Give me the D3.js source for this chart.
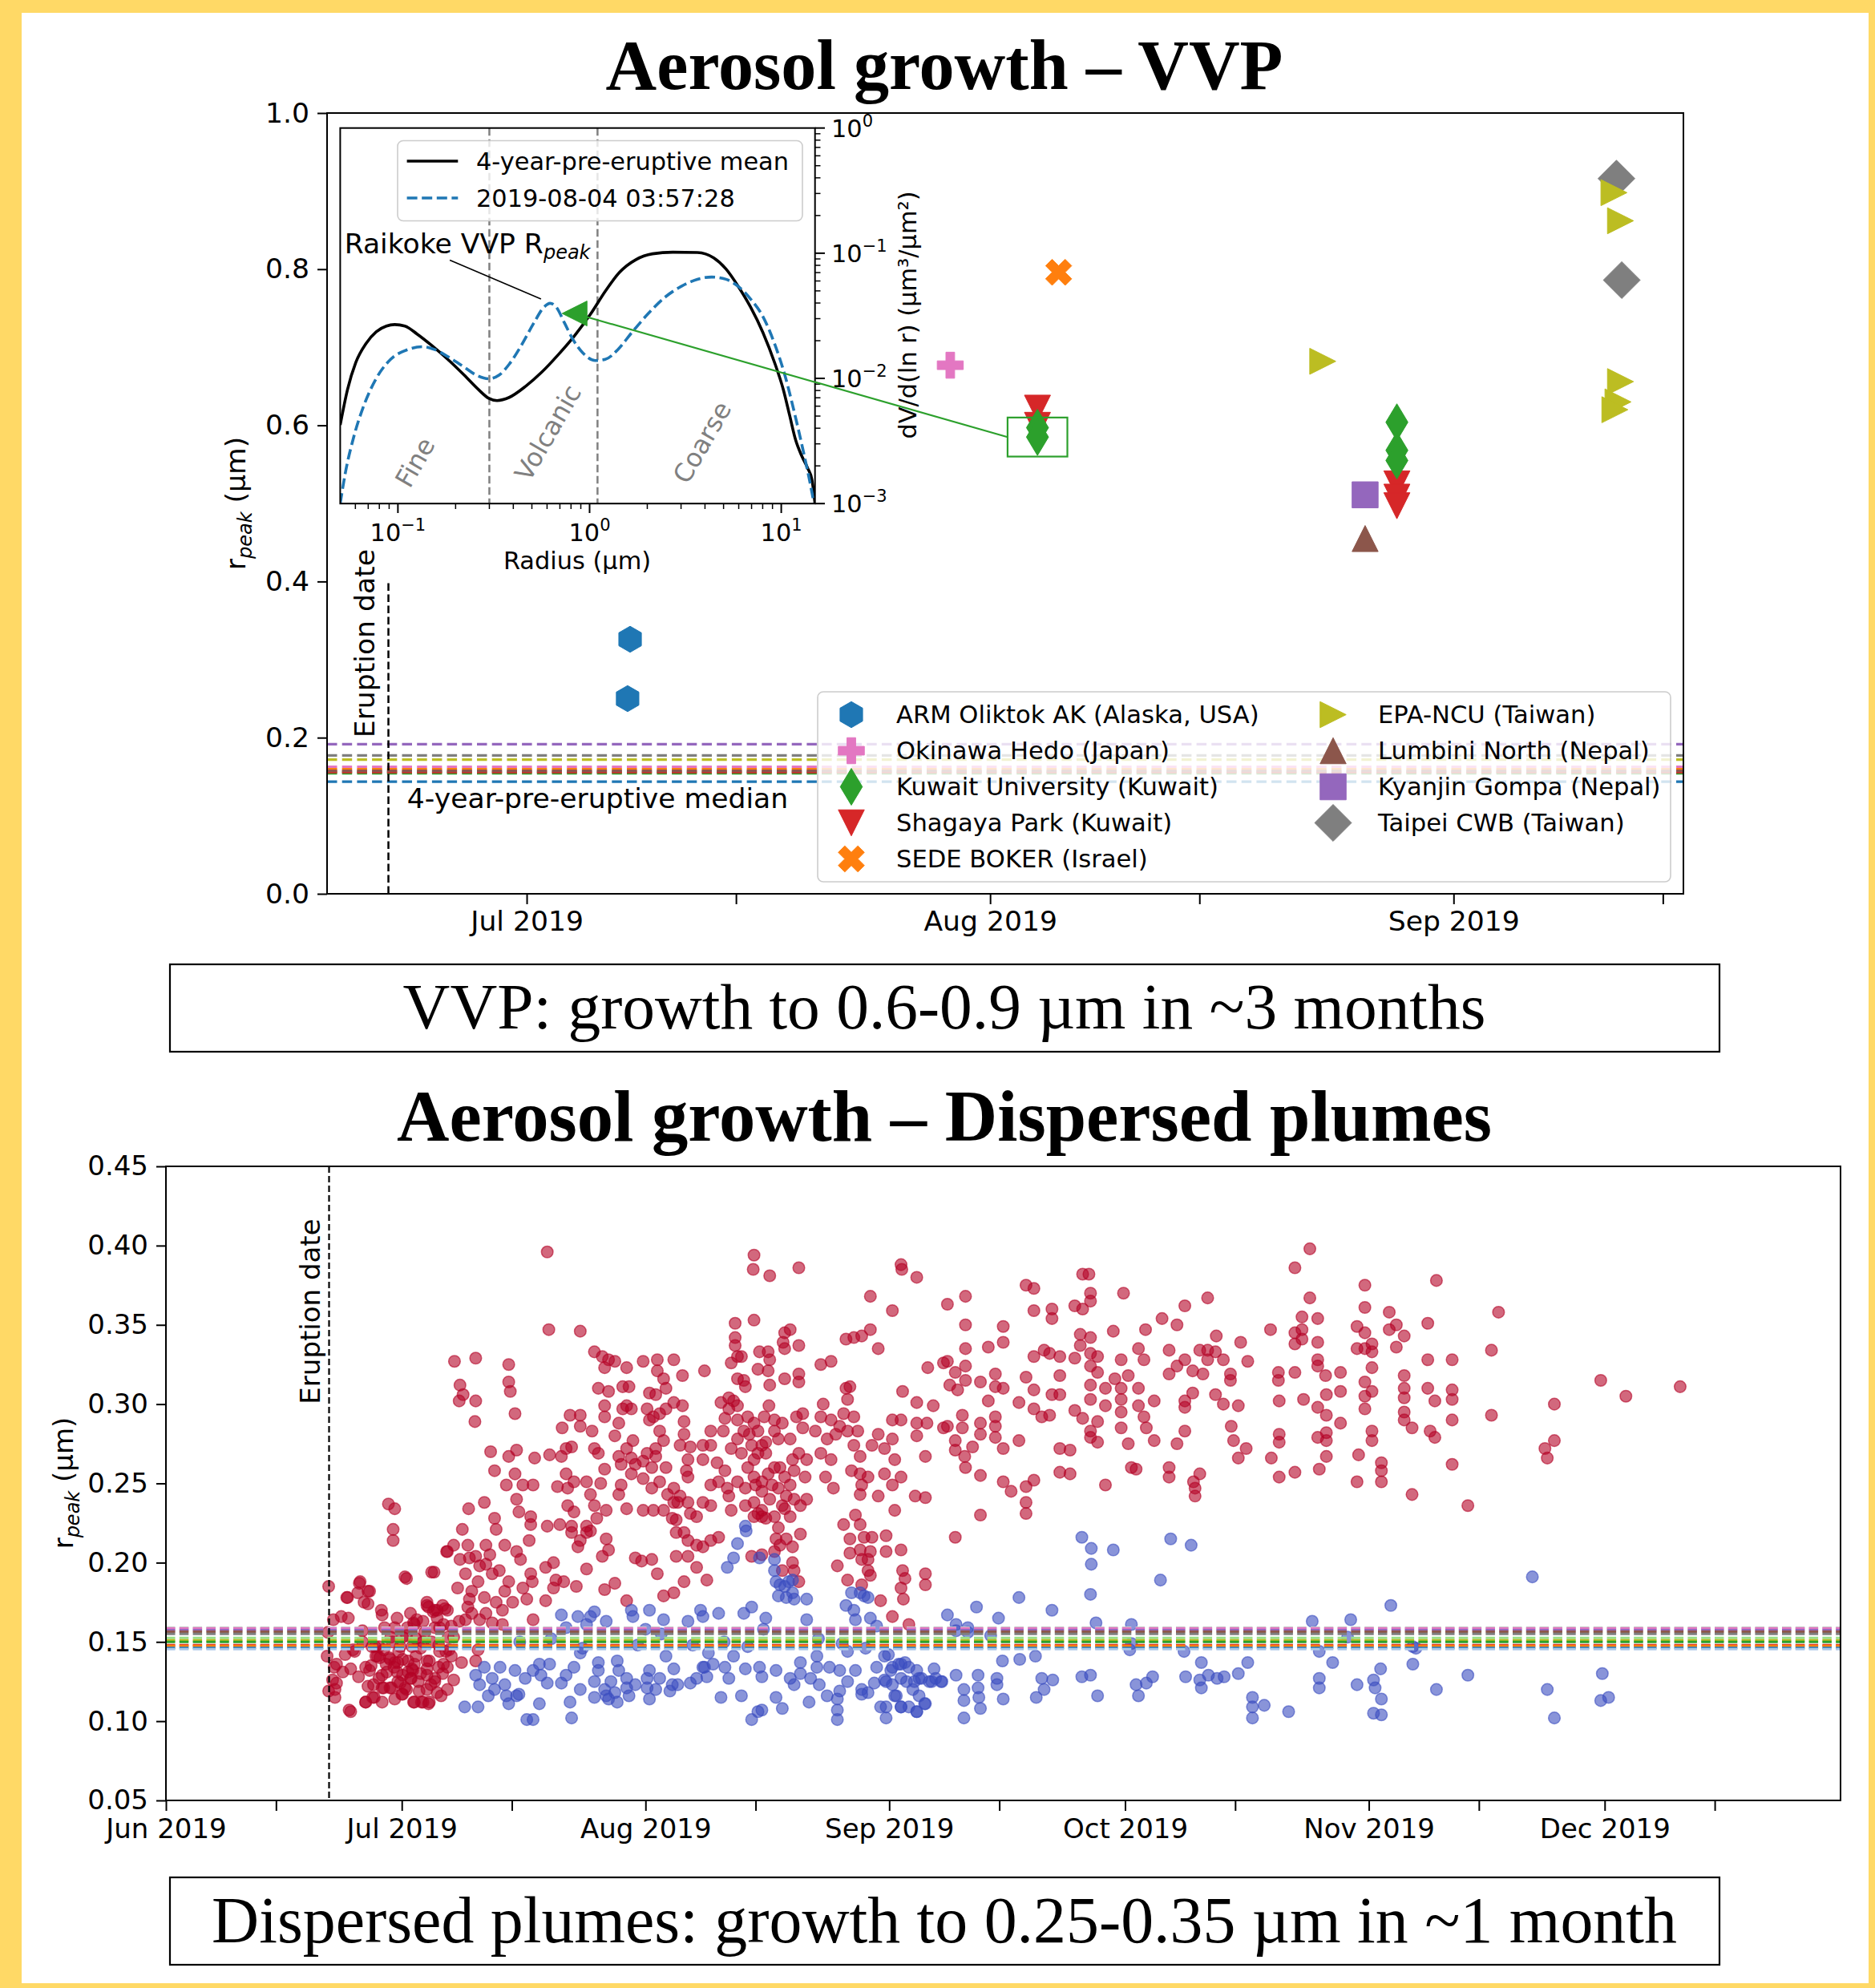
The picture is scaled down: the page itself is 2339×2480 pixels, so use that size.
<!DOCTYPE html>
<html><head><meta charset="utf-8">
<script src="https://cdn.jsdelivr.net/npm/d3@7"></script>
<style>html,body{margin:0;padding:0;background:#FFD966}svg{display:block}</style>
</head><body>
<svg id="chart" width="2339" height="2480" xmlns="http://www.w3.org/2000/svg"></svg>
<script>
// ================= DATA =================
// --- VVP panel: stations ---
const stationNames = ["ARM Oliktok AK (Alaska, USA)","Okinawa Hedo (Japan)","Kuwait University (Kuwait)","Shagaya Park (Kuwait)","SEDE BOKER (Israel)","EPA-NCU (Taiwan)","Lumbini North (Nepal)","Kyanjin Gompa (Nepal)","Taipei CWB (Taiwan)"];
const stationColors = ["#1f77b4","#e377c2","#2ca02c","#d62728","#ff7f0e","#bcbd22","#8c564b","#9467bd","#7f7f7f"];
const stationSymbols = ["hexagon","plus","thin_diamond","tri_down","x","tri_right","tri_up","square","diamond"];
const stationMedians = [0.1437,0.1625,0.1545,0.1560,0.1595,0.1718,0.1575,0.1917,0.1773];
const armPts = [["2019-07-07T22:00Z",0.326],["2019-07-07T18:00Z",0.250]];
const okinawaPts = [["2019-07-29T08:00Z",0.677]];
const kuwaitUPts = [["2019-08-04T04:00Z",0.597],["2019-08-04T04:00Z",0.585],["2019-08-28T05:00Z",0.604],["2019-08-28T05:00Z",0.568],["2019-08-28T05:00Z",0.555]];
const shagayaPts = [["2019-08-04T04:00Z",0.622],["2019-08-04T04:00Z",0.600],["2019-08-28T05:00Z",0.525],["2019-08-28T05:00Z",0.508],["2019-08-28T05:00Z",0.497]];
const sedePts = [["2019-08-05T14:00Z",0.796]];
const epaPts = [["2019-08-23T06:00Z",0.682],["2019-09-11T17:30Z",0.898],["2019-09-12T04:00Z",0.862],["2019-09-12T04:00Z",0.656],["2019-09-12T00:00Z",0.630],["2019-09-11T19:00Z",0.620]];
const lumbiniPts = [["2019-08-26T02:00Z",0.455]];
const kyanjinPts = [["2019-08-26T02:00Z",0.511]];
const taipeiPts = [["2019-09-11T21:30Z",0.916],["2019-09-12T06:00Z",0.786]];
const eruptionDate = "2019-06-21T18:00Z";
const topYTicks = [0,0.2,0.4,0.6,0.8,1.0];
const topXTicks = ["2019-07-01","2019-07-15","2019-08-01","2019-08-15","2019-09-01","2019-09-15"];
const highlightBox = {d0:"2019-08-02T04:00Z", d1:"2019-08-06T04:00Z", v0:0.560, v1:0.610};

// --- inset: size distributions ---
const meanR  = [0.0500,0.0546,0.0603,0.0682,0.0771,0.0871,0.0962,0.1087,0.1259,0.1496,0.182,0.222,0.263,0.298,0.329,0.381,0.464,0.564,0.687,0.836,1.017,1.208,1.435,1.746,2.128,2.718,3.65,4.446,5.152,5.97,6.92,8.02,9.29,10.25,11.04,11.89,12.79,13.77,14.46,15.0];
const meanDV = [0.00425,0.00815,0.0134,0.0190,0.0236,0.0262,0.0269,0.0262,0.0226,0.0184,0.0142,0.0106,0.00815,0.00693,0.00665,0.00705,0.00865,0.01125,0.01549,0.0220,0.0330,0.0497,0.0705,0.0889,0.0989,0.1019,0.1012,0.0916,0.0747,0.0542,0.0371,0.0233,0.0130,0.00815,0.00512,0.00321,0.00240,0.00190,0.00155,0.00100];
const obsR  = [0.0500,0.0533,0.0588,0.0665,0.0771,0.0916,0.1114,0.1356,0.157,0.1866,0.222,0.257,0.298,0.3367,0.381,0.441,0.512,0.578,0.622,0.670,0.740,0.815,0.922,1.069,1.208,1.400,1.663,2.025,2.464,3.00,3.65,4.335,5.15,5.97,6.92,8.02,9.29,10.5,11.89,13.09,14.09,14.83];
const obsDV = [0.00100,0.00179,0.00340,0.00610,0.0100,0.0142,0.0169,0.0179,0.0169,0.0146,0.0123,0.0106,0.00993,0.0106,0.0130,0.0184,0.0277,0.0371,0.0398,0.0371,0.0277,0.0207,0.0160,0.0139,0.0142,0.0169,0.0233,0.0330,0.0443,0.0542,0.0619,0.0645,0.0619,0.0542,0.0430,0.0312,0.0184,0.0103,0.00483,0.00254,0.00150,0.00100];
const regionBounds = [0.3, 1.1];
const regionLabels = [["Fine",0.123,0.00213],["Volcanic",0.607,0.00367],["Coarse",3.87,0.00308]];
const vvpPeak = [0.835, 0.033];
const annotText = [0.0526, 0.1];
const annotFrom = [0.1865, 0.088];
const annotTo = [0.558, 0.043];

// --- Dispersed plumes panel ---
const dispMedians = [0.1590,0.1585,0.1575,0.1565,0.1550,0.1525,0.1510,0.1500,0.1480,0.1475,0.1462,0.1455];
const dispMedianColors = ["#c7c7c7","#e377c2","#9467bd","#8c564b","#7f7f7f","#98df8a","#bcbd22","#2ca02c","#d62728","#ff7f0e","#1f77b4","#aec7e8"];
const bottomYTicks = [0.05,0.10,0.15,0.20,0.25,0.30,0.35,0.40,0.45];
const bottomXTicks = ["2019-06-01","2019-06-15","2019-07-01","2019-07-15","2019-08-01","2019-08-15","2019-09-01","2019-09-15","2019-10-01","2019-10-15","2019-11-01","2019-11-15","2019-12-01","2019-12-15"];
// [days since 2019-06-01, r_peak]
const dispRed = [
[20.7,0.185],[21.3,0.164],[20.6,0.156],[20.5,0.141],[20.7,0.119],[21.5,0.115],[21.7,0.124],[21.4,0.134],[22.3,0.166],[23.2,0.165],[23.1,0.178],[24.4,0.181],[24.7,0.188],[25.7,0.182],[25.2,0.175],[25.7,0.174],[23.5,0.106],[22.5,0.131],[23.5,0.133],[24.5,0.128],[25.4,0.112],[25.4,0.134],[25.7,0.122],[25.0,0.157],[26.2,0.147],[26.7,0.141],[27.4,0.170],[27.5,0.167],[27.7,0.121],[27.5,0.112],[27.2,0.140],[28.4,0.140],[28.7,0.121],[28.3,0.237],[29.1,0.234],[28.9,0.221],[28.9,0.214],[29.4,0.165],[29.1,0.159],[29.6,0.144],[29.1,0.137],[29.4,0.131],[29.8,0.124],[30.4,0.191],[30.4,0.121],[31.3,0.133],[31.5,0.112],[32.5,0.112],[33.5,0.112],[33.8,0.194],[33.2,0.173],[34.0,0.169],[34.5,0.170],[35.2,0.173],[34.8,0.159],[33.8,0.150],[34.8,0.144],[35.2,0.130],[34.2,0.125],[33.2,0.120],[33.2,0.133],[32.4,0.130],[32.4,0.146],[31.3,0.147],[30.8,0.138],[31.5,0.162],[31.8,0.152],[30.1,0.153],[30.8,0.131],[30.0,0.117],[26.6,0.147],[28.1,0.131],[27.1,0.127],[26.5,0.115],
[23.0,0.178],[24.6,0.187],[25.9,0.182],[30.6,0.190],[34.1,0.194],[35.7,0.207],[33.2,0.175],[34.2,0.170],[31.9,0.164],[34.5,0.165],[35.8,0.170],[35.3,0.161],[23.3,0.107],[25.4,0.112],[27.5,0.121],[28.5,0.121],[30.6,0.120],[31.6,0.112],[32.7,0.112],[33.4,0.111],[35.0,0.116],[35.8,0.120],[36.6,0.126],[25.9,0.132],[29.5,0.137],[31.4,0.132],[33.2,0.138],[34.7,0.134],[27.7,0.145],[28.5,0.139],[30.1,0.139],[23.8,0.145],[22.8,0.142],[21.7,0.136],[21.2,0.126],[21.5,0.120],
[26.9,0.141],[28.0,0.136],[29.0,0.134],[30.1,0.129],[31.1,0.127],[32.1,0.125],[33.2,0.129],[34.2,0.127],[35.3,0.136],[27.5,0.129],[29.5,0.125],[31.6,0.136],[33.7,0.123],[35.8,0.134],[26.4,0.123],[28.8,0.150],[30.6,0.154],[32.7,0.150],[34.7,0.148],[36.0,0.145],[31.1,0.168],[32.7,0.163],[31.6,0.161],[33.4,0.172],
[24.0,0.144],[25.0,0.150],[26.1,0.135],[27.1,0.147],[27.8,0.159],[28.6,0.153],[29.8,0.147],[30.7,0.159],[31.2,0.127],[31.8,0.141],[32.9,0.156],[33.5,0.138],[34.2,0.159],[35.6,0.144],[35.9,0.153],[26.3,0.115],[29.1,0.114],[30.1,0.117],[32.2,0.119],[34.5,0.118],
[35.5,0.171],[36.6,0.153],[36.3,0.141],[37.6,0.137],[36.7,0.327],[37.4,0.312],[37.8,0.306],[37.3,0.302],[39.4,0.329],[39.4,0.302],[39.3,0.289],[38.5,0.234],[37.7,0.221],[35.8,0.207],[36.6,0.211],[37.4,0.202],[38.6,0.203],[39.9,0.198],[39.7,0.188],[38.9,0.182],[38.6,0.177],[38.4,0.172],[38.1,0.164],[37.3,0.163],[39.9,0.164],[39.7,0.145],[39.4,0.138],[40.5,0.238],[41.3,0.270],[41.8,0.258],[41.8,0.228],[42.0,0.221],[40.7,0.211],[41.2,0.205],[40.5,0.178],[41.5,0.162],[42.8,0.170],[43.1,0.182],[42.4,0.195],[43.6,0.325],[43.6,0.314],[43.8,0.308],[44.4,0.294],[44.6,0.271],[43.6,0.267],[43.3,0.249],[44.4,0.256],[44.6,0.240],[44.9,0.232],[43.1,0.211],[44.6,0.207],[44.1,0.175],[42.8,0.161],
[38.4,0.211],[39.4,0.204],[40.7,0.199],[41.5,0.193],[38.1,0.193],[37.1,0.184],[38.9,0.168],[40.7,0.168],[42.0,0.175],[43.6,0.188],[45.1,0.202],[46.4,0.193],[45.9,0.177],[48.3,0.197],[49.3,0.184],[36.3,0.160],
[45.4,0.249],[46.4,0.229],[46.4,0.224],[46.7,0.249],[46.9,0.266],[46.2,0.214],[46.6,0.188],[45.4,0.184],[46.7,0.164],[48.3,0.176],[48.5,0.223],[48.8,0.268],[49.3,0.200],[49.6,0.189],[50.6,0.188],[52.2,0.185],[49.8,0.248],[50.3,0.267],[50.9,0.272],[51.6,0.273],[50.4,0.285],[51.4,0.293],[52.7,0.293],[52.7,0.286],[50.9,0.256],[51.1,0.247],[51.9,0.251],[51.1,0.236],[51.9,0.232],[50.1,0.224],[51.6,0.223],[51.6,0.219],[52.7,0.214],[52.4,0.210],[53.5,0.223],[53.5,0.219],[53.5,0.196],[52.7,0.346],[48.7,0.347],[48.5,0.396],[53.5,0.251],[54.0,0.243],[54.5,0.272],[54.2,0.283],[54.5,0.333],[55.5,0.330],[56.3,0.328],[55.8,0.323],[55.0,0.310],[56.3,0.308],[55.8,0.299],[55.8,0.292],[55.0,0.269],[55.8,0.259],[55.3,0.250],[54.5,0.236],[56.0,0.233],[54.8,0.228],[54.0,0.220],[55.5,0.204],[56.0,0.215],[56.3,0.208],[55.8,0.183],[57.1,0.187],[58.6,0.176],
[57.1,0.327],[58.6,0.323],[58.9,0.311],[58.6,0.299],[58.1,0.297],[57.6,0.288],[57.1,0.280],[58.6,0.272],[57.6,0.267],[59.2,0.266],[59.7,0.262],[59.2,0.256],[57.9,0.249],[57.6,0.243],[58.6,0.234],[59.7,0.203],[60.5,0.201],[60.7,0.233],[60.7,0.327],[61.5,0.307],[62.0,0.292],[61.5,0.290],[62.5,0.328],[62.5,0.321],[63.3,0.316],[63.6,0.310],[64.6,0.328],[65.7,0.318],[63.6,0.297],[62.8,0.283],[63.3,0.277],[62.3,0.272],[61.2,0.269],[62.3,0.267],[61.8,0.260],[63.6,0.260],[62.8,0.251],[61.8,0.247],[64.6,0.247],[63.8,0.243],[64.6,0.238],[65.7,0.299],[65.9,0.289],[65.9,0.281],[65.4,0.274],[66.7,0.273],[66.4,0.265],[66.2,0.258],[66.4,0.254],[65.4,0.242],[65.1,0.238],[66.4,0.238],[66.7,0.231],[64.9,0.227],[64.9,0.219],[65.9,0.219],[66.4,0.214],[67.5,0.211],[66.4,0.204],[68.3,0.210],[69.3,0.214],[70.3,0.216],[68.8,0.189],[67.5,0.229],[68.3,0.274],[68.3,0.265],[68.5,0.321],[69.3,0.283],[69.3,0.274],[69.3,0.249],[69.3,0.236],
[58.1,0.311],[59.2,0.297],[61.2,0.297],[62.3,0.306],[62.8,0.294],[64.6,0.301],[57.9,0.262],[68.3,0.238],[59.4,0.277],[60.7,0.264],[60.7,0.253],[62.0,0.233],[63.3,0.233],[64.4,0.228],
[61.8,0.202],[62.5,0.193],[64.9,0.204],[65.9,0.188],[67.5,0.197],[63.3,0.179],[64.6,0.181],
[70.1,0.263],[70.3,0.251],[70.6,0.301],[70.9,0.283],[71.1,0.258],[71.4,0.247],[71.6,0.242],[71.9,0.233],[71.1,0.291],[72.4,0.351],[72.4,0.342],[72.4,0.337],[71.9,0.326],[72.7,0.330],[73.2,0.330],[72.7,0.316],[73.5,0.315],[73.7,0.311],[71.6,0.304],[72.2,0.302],[72.7,0.299],[71.6,0.297],[72.7,0.290],[73.5,0.283],[73.2,0.269],[74.2,0.281],[74.5,0.274],[75.3,0.283],[74.8,0.265],[75.3,0.269],[75.8,0.274],[76.3,0.269],[76.3,0.276],[74.8,0.254],[75.0,0.249],[75.8,0.251],[75.8,0.245],[74.8,0.238],[75.8,0.233],[75.3,0.231],[75.8,0.229],[73.7,0.236],[74.8,0.394],[74.7,0.385],[76.8,0.381],[74.8,0.353],[75.5,0.333],[75.3,0.322],[76.6,0.333],[76.8,0.328],[76.6,0.321],[76.8,0.312],[76.7,0.299],[77.4,0.290],[77.9,0.278],[77.4,0.260],[77.1,0.249],[77.9,0.247],[78.7,0.254],[79.4,0.249],[78.9,0.242],[79.9,0.240],[78.7,0.234],[77.4,0.229],[76.3,0.228],[77.9,0.222],[77.6,0.215],[78.9,0.215],[79.7,0.210],[79.9,0.195],[78.7,0.345],[79.4,0.347],[78.5,0.339],[78.7,0.335],[80.5,0.386],[80.5,0.337],[78.7,0.316],[80.5,0.319],[80.5,0.314],[81.0,0.294],[81.0,0.285],[80.5,0.269],[81.5,0.265],[81.3,0.254],[79.9,0.258],[81.5,0.240],[80.7,0.236],[82.6,0.283],
[71.9,0.272],[72.7,0.278],[74.0,0.292],[74.8,0.288],[76.1,0.292],[77.4,0.283],[78.4,0.288],[79.4,0.278],[80.2,0.292],[74.0,0.260],[76.6,0.256],[78.1,0.260],[79.7,0.265],[72.7,0.251],[73.7,0.247],[76.8,0.240],[74.8,0.229],[79.4,0.229],[78.4,0.236],[80.7,0.218],[78.1,0.211],
[74.5,0.204],[75.8,0.205],[77.4,0.207],[78.4,0.195],[79.7,0.200],[80.5,0.188],
[83.3,0.325],[84.6,0.327],[83.6,0.300],[83.3,0.292],[84.6,0.290],[85.7,0.286],[85.2,0.281],[84.1,0.278],[83.3,0.269],[84.6,0.265],[83.9,0.254],[84.9,0.247],[86.2,0.294],[86.5,0.310],[87.0,0.311],[86.7,0.303],[87.5,0.292],[86.7,0.283],[88.0,0.283],[87.5,0.274],[88.3,0.267],[87.2,0.258],[88.3,0.256],[89.3,0.254],[88.5,0.249],[88.3,0.243],[87.5,0.342],[88.5,0.343],[89.6,0.347],[86.5,0.341],[90.6,0.335],[89.6,0.368],[92.4,0.359],[93.5,0.388],[93.6,0.385],[95.5,0.380],[93.7,0.308],[95.5,0.301],[97.6,0.299],[95.5,0.288],[96.8,0.288],[93.5,0.290],[92.4,0.290],[92.4,0.278],[90.6,0.281],[89.8,0.274],[91.4,0.272],[92.7,0.265],[91.4,0.256],[92.4,0.249],[90.6,0.242],[93.5,0.254],[95.5,0.280],[96.6,0.267],[95.3,0.242],[96.6,0.241],[92.7,0.233],[98.9,0.285],[98.9,0.326],
[86.2,0.224],[87.7,0.230],[88.3,0.224],[87.0,0.215],[88.8,0.216],[89.8,0.216],[88.3,0.208],[89.6,0.207],[87.0,0.206],[88.5,0.202],[89.3,0.202],[89.3,0.195],[89.6,0.192],[85.4,0.198],[86.7,0.189],[88.5,0.186],[90.9,0.176],[92.4,0.166],[93.5,0.184],[93.7,0.195],[94.0,0.190],[93.5,0.208],[96.6,0.193],[96.6,0.186],[91.6,0.217],[91.6,0.207],[93.8,0.177],[100.4,0.216],[94.5,0.161],
[96.9,0.323],[99.4,0.363],[99.4,0.327],[99.7,0.312],[100.4,0.320],[100.7,0.309],[101.7,0.368],[101.7,0.350],[101.7,0.335],[101.7,0.324],[101.7,0.315],[99.4,0.286],[101.3,0.293],[101.3,0.285],[100.4,0.277],[100.4,0.271],[101.6,0.267],[101.7,0.260],[102.6,0.273],[103.6,0.314],[103.6,0.288],[103.6,0.281],[103.6,0.255],[103.6,0.230],[104.6,0.336],[104.6,0.302],[105.5,0.319],[105.5,0.311],[105.5,0.292],[105.5,0.286],[105.5,0.279],[106.5,0.349],[106.5,0.339],[106.5,0.310],[106.5,0.272],[106.5,0.251],[107.5,0.245],[108.5,0.301],[108.5,0.277],[109.4,0.317],[109.4,0.375],[109.4,0.248],[109.4,0.238],[109.4,0.231],[110.4,0.373],[110.4,0.359],[110.4,0.330],[110.4,0.309],[110.4,0.297],[110.4,0.252],[111.4,0.292],[111.7,0.334],[112.4,0.332],[112.7,0.360],[112.7,0.354],[112.7,0.306],[112.4,0.293],[113.7,0.330],[113.7,0.318],[113.7,0.306],[113.7,0.272],[113.7,0.257],[115.0,0.271],[115.0,0.256],[115.6,0.362],[115.6,0.329],[115.6,0.296],[116.6,0.360],[116.3,0.344],[116.3,0.337],[116.6,0.291],[116.6,0.382],[117.4,0.382],[117.6,0.370],[117.6,0.365],[117.6,0.342],[117.6,0.332],[117.6,0.324],[117.6,0.312],[117.6,0.303],[117.6,0.283],[117.6,0.279],[118.5,0.330],[118.5,0.320],[118.5,0.289],[118.5,0.276],[119.5,0.299],[119.5,0.310],[119.5,0.249],[120.5,0.346],[120.7,0.316],[121.5,0.328],[121.5,0.310],[121.5,0.303],[121.5,0.295],[121.5,0.285],[121.8,0.370],[122.4,0.318],[122.4,0.275],[122.8,0.260],[123.4,0.259],[123.7,0.335],[123.7,0.310],[123.7,0.299],[124.4,0.292],[124.4,0.328],[124.6,0.347],[124.7,0.285],[125.7,0.302],[125.7,0.277],[126.7,0.354],[127.6,0.334],[127.6,0.319],[127.6,0.260],[127.6,0.254],[128.6,0.350],[128.6,0.324],[128.6,0.275],[129.6,0.362],[129.6,0.328],[129.6,0.302],[129.6,0.298],[129.6,0.283],[130.6,0.321],[130.6,0.307],[130.7,0.251],[130.9,0.247],[130.9,0.242],[131.5,0.334],[131.5,0.256],[131.9,0.319],[132.5,0.367],[132.5,0.334],[132.5,0.328],[133.5,0.333],[133.5,0.306],[133.6,0.343],[134.5,0.328],[134.5,0.300],[135.4,0.319],[135.4,0.315],[135.5,0.286],[135.8,0.277],[136.4,0.299],[136.4,0.266],[136.7,0.339],[137.4,0.272],[137.6,0.327],[140.5,0.347],[140.6,0.266],[141.5,0.320],[141.5,0.315],[141.6,0.302],[141.6,0.281],[141.6,0.276],[141.6,0.254],[143.6,0.386],[143.6,0.345],[143.6,0.338],[143.6,0.320],[143.6,0.257],[144.5,0.355],[144.5,0.347],[144.5,0.341],[144.7,0.303],[145.5,0.398],[145.5,0.367],[146.5,0.354],[146.5,0.339],[146.5,0.328],[146.5,0.324],[146.5,0.298],[146.5,0.279],[146.7,0.259],[147.5,0.318],[147.6,0.306],[147.6,0.293],[147.6,0.282],[147.6,0.277],[147.6,0.267],[149.4,0.320],[149.4,0.308],[149.4,0.288],[151.5,0.349],[151.5,0.335],[151.7,0.268],[151.5,0.251],[152.5,0.375],[152.5,0.361],[152.5,0.345],[152.5,0.335],[152.5,0.314],[152.5,0.305],[152.5,0.297],[153.4,0.338],[153.4,0.333],[153.4,0.323],[153.4,0.308],[153.4,0.283],[153.4,0.277],[154.6,0.263],[154.6,0.258],[154.6,0.251],[155.6,0.358],[155.6,0.347],[156.5,0.350],[156.5,0.336],[157.5,0.343],[157.5,0.318],[157.5,0.310],[157.5,0.304],[157.5,0.295],[157.5,0.290],[158.5,0.285],[158.5,0.243],[160.5,0.351],[160.5,0.328],[160.5,0.310],[160.8,0.283],[161.4,0.302],[161.4,0.279],[161.6,0.378],[163.6,0.328],[163.6,0.309],[163.6,0.303],[163.6,0.290],[163.6,0.262],[165.6,0.236],[168.6,0.334],[168.6,0.293],[169.5,0.358],[175.4,0.272],[175.7,0.266],[176.6,0.277],[176.6,0.300],[182.5,0.315],[185.7,0.305],[192.6,0.311]
];
const dispBlue = [
[38.0,0.109],[39.7,0.109],[39.4,0.129],[39.9,0.123],[40.5,0.134],[41.5,0.127],[41.8,0.120],[42.5,0.134],[43.1,0.123],[43.3,0.116],[43.6,0.111],[44.4,0.132],[45.7,0.127],[44.9,0.117],[45.9,0.101],[46.7,0.101],[47.5,0.136],[47.7,0.129],[47.5,0.111],[48.5,0.124],[50.3,0.167],[50.3,0.124],[50.9,0.159],[51.4,0.112],[51.6,0.102],[52.4,0.166],[52.7,0.143],[52.7,0.120],[53.5,0.161],[54.0,0.166],[54.5,0.169],[54.5,0.125],[54.5,0.115],[55.0,0.137],[55.0,0.132],[56.0,0.116],[56.0,0.163],[56.3,0.114],[56.6,0.125],[57.4,0.138],[57.4,0.112],[57.6,0.132],[58.6,0.127],[58.9,0.116],[59.2,0.170],[59.4,0.166],[59.7,0.123],[61.0,0.158],[61.2,0.127],[61.2,0.121],[61.5,0.170],[61.5,0.114],[62.3,0.120],[63.3,0.164],[63.6,0.141],[64.1,0.119],[64.6,0.133],[65.1,0.123],[66.7,0.124],[66.4,0.163],[68.0,0.170],[68.3,0.166],[68.5,0.134],[68.8,0.128],[69.0,0.143],[70.3,0.168],[70.6,0.115],[71.1,0.134],[71.4,0.197],[72.2,0.203],[72.7,0.212],[73.7,0.223],[73.8,0.220],[72.2,0.141],[73.5,0.168],[73.7,0.133],[74.5,0.172],[74.5,0.101],[75.3,0.106],[75.5,0.203],[76.3,0.165],[77.4,0.202],[77.4,0.195],[77.6,0.188],[78.1,0.186],[78.7,0.185],[79.2,0.188],[79.7,0.189],[77.9,0.179],[78.9,0.178],[79.7,0.181],[79.9,0.177],[81.5,0.177],[77.6,0.115],[78.4,0.108],[75.8,0.128],[77.6,0.132],[80.7,0.137],[80.7,0.130],[81.5,0.164],[82.0,0.127],[81.8,0.112],[82.8,0.134],[82.8,0.141],[84.4,0.134],[85.7,0.132],[85.7,0.119],[85.4,0.114],[85.4,0.107],[85.4,0.101],[86.5,0.173],[86.7,0.144],[87.2,0.181],[87.5,0.170],[87.7,0.164],[88.3,0.181],[88.8,0.179],[89.3,0.178],[89.6,0.165],[89.3,0.118],[88.5,0.117],[90.4,0.160],[90.1,0.124],[90.9,0.109],[91.4,0.141],[91.4,0.126],[91.6,0.102],[92.4,0.134],[92.7,0.116],[93.2,0.136],[93.5,0.109],[94.0,0.137],[94.2,0.125],[94.5,0.109],[95.0,0.120],[95.5,0.132],[95.5,0.106],[96.6,0.111],[97.1,0.125],[97.9,0.127],[98.7,0.125],
[45.0,0.150],[49.0,0.152],[53.0,0.146],[60.0,0.148],[63.0,0.155],[67.0,0.148],[71.0,0.150],[74.0,0.147],[76.0,0.158],[83.0,0.152],[86.0,0.149],[89.0,0.146],
[79.4,0.127],[79.9,0.123],[83.1,0.123],[84.1,0.116],[86.7,0.125],[87.7,0.132],[88.5,0.120],[90.4,0.134],[92.4,0.123],[93.5,0.127],[95.8,0.116],[96.1,0.127],[55.8,0.120],[57.1,0.118],[58.6,0.121],[61.5,0.132],[62.8,0.127],[64.4,0.123],[67.5,0.127],[68.3,0.134],[69.6,0.136],[71.6,0.127],[73.2,0.116],[75.5,0.134],[75.8,0.107],[46.7,0.132],[48.8,0.136],[44.6,0.116],[41.0,0.116],[50.9,0.129],[51.9,0.134],
[99.4,0.167],[100.5,0.161],[102.0,0.159],[103.1,0.172],[105.9,0.165],[108.5,0.178],[112.7,0.170],[116.5,0.216],[117.7,0.209],[117.7,0.199],[120.5,0.208],[117.6,0.180],[118.3,0.162],[122.8,0.161],[126.5,0.189],[127.8,0.215],[130.4,0.211],[145.8,0.163],[150.7,0.164],[155.8,0.173],[173.8,0.191],[158.6,0.136],[165.6,0.129],[175.7,0.120],[176.6,0.102],[182.7,0.130],[182.5,0.113],[183.5,0.115],
[91.9,0.142],[93.5,0.136],[92.2,0.132],[91.6,0.125],[92.9,0.116],[91.6,0.109],[93.5,0.109],[94.5,0.134],[95.2,0.125],[95.8,0.127],[95.5,0.106],[96.5,0.111],[97.4,0.125],[97.7,0.133],[98.6,0.125],[100.5,0.129],[101.5,0.120],[101.5,0.113],[101.5,0.102],[103.3,0.129],[103.3,0.121],[103.4,0.115],[103.6,0.108],[105.7,0.127],[105.7,0.123],[106.4,0.138],[106.5,0.114],[108.6,0.139],[110.6,0.141],[110.7,0.115],[111.4,0.127],[111.7,0.120],[112.8,0.126],[116.5,0.128],[117.6,0.129],[118.5,0.116],[122.6,0.145],[123.4,0.123],[123.7,0.116],[124.7,0.124],[125.5,0.128],[129.5,0.144],[129.7,0.128],[131.7,0.137],[131.5,0.126],[131.7,0.121],[132.6,0.129],[133.7,0.127],[134.6,0.128],[136.4,0.130],[137.6,0.137],[138.2,0.115],[138.2,0.109],[138.2,0.102],[139.7,0.110],[142.8,0.106],[146.7,0.144],[146.7,0.127],[146.7,0.121],[148.4,0.137],[151.5,0.123],[153.6,0.126],[153.8,0.121],[153.6,0.105],[154.5,0.133],[154.6,0.114],[154.6,0.104],[158.6,0.147],[161.6,0.120],
[100.5,0.157],[102.0,0.156],[104.9,0.154],[122.8,0.149],[150.3,0.153],[159.0,0.146]
];

// ================= DRAWING =================
const FONT = "DejaVu Sans";
const svg = d3.select("#chart");
svg.append("rect").attr("width",2339).attr("height",2480).attr("fill","#FFD966");
svg.append("rect").attr("x",27).attr("y",16).attr("width",2304).attr("height",2458).attr("fill","#ffffff");

function fitText(sel, w){
  const l = sel.node().getComputedTextLength();
  const fs = parseFloat(sel.attr("font-size"));
  sel.attr("font-size", fs*w/l);
}
function symbolPath(type, s){
  const h = s/2;
  const poly = pts => "M" + pts.map(p => p[0].toFixed(2)+","+p[1].toFixed(2)).join("L") + "Z";
  switch(type){
    case "hexagon": return poly(d3.range(6).map(i => {const a=-Math.PI/2+i*Math.PI/3; return [h*Math.cos(a), h*Math.sin(a)];}));
    case "plus": return poly([[-1,-3],[1,-3],[1,-1],[3,-1],[3,1],[1,1],[1,3],[-1,3],[-1,1],[-3,1],[-3,-1],[-1,-1]].map(p => [p[0]*s/6, p[1]*s/6]));
    case "x": return poly([[-1,-2],[0,-1],[1,-2],[2,-1],[1,0],[2,1],[1,2],[0,1],[-1,2],[-2,1],[-1,0],[-2,-1]].map(p => [p[0]*s/4, p[1]*s/4]));
    case "thin_diamond": return poly([[0,-0.707*s],[0.424*s,0],[0,0.707*s],[-0.424*s,0]]);
    case "diamond": return poly([[0,-0.707*s],[0.707*s,0],[0,0.707*s],[-0.707*s,0]]);
    case "square": return poly([[-h,-h],[h,-h],[h,h],[-h,h]]);
    case "tri_up": return poly([[0,-h],[h,h],[-h,h]]);
    case "tri_down": return poly([[0,h],[h,-h],[-h,-h]]);
    case "tri_right": return poly([[h,0],[-h,h],[-h,-h]]);
    case "tri_left": return poly([[-h,0],[h,h],[h,-h]]);
  }
}
const MS = 32.5;

// ---------- Titles & boxes ----------
const t1 = svg.append("text").attr("x",1178).attr("y",111).attr("text-anchor","middle")
  .attr("font-family","Liberation Serif").attr("font-weight","bold").attr("font-size",80).text("Aerosol growth – VVP");
fitText(t1, 845);
const t2 = svg.append("text").attr("x",1178).attr("y",1423).attr("text-anchor","middle")
  .attr("font-family","Liberation Serif").attr("font-weight","bold").attr("font-size",80).text("Aerosol growth – Dispersed plumes");
fitText(t2, 1366);
svg.append("rect").attr("x",212).attr("y",1203).attr("width",1933).attr("height",109).attr("fill","none").attr("stroke","#000").attr("stroke-width",2.2);
const b1 = svg.append("text").attr("x",1178).attr("y",1283).attr("text-anchor","middle")
  .attr("font-family","Liberation Serif").attr("font-size",70).text("VVP: growth to 0.6-0.9 µm in ~3 months");
fitText(b1, 1351);
svg.append("rect").attr("x",212).attr("y",2342).attr("width",1933).attr("height",109).attr("fill","none").attr("stroke","#000").attr("stroke-width",2.2);
const b2 = svg.append("text").attr("x",1178).attr("y",2423).attr("text-anchor","middle")
  .attr("font-family","Liberation Serif").attr("font-size",70).text("Dispersed plumes: growth to 0.25-0.35 µm in ~1 month");
fitText(b2, 1828);

// ---------- TOP PANEL ----------
const xT = d3.scaleUtc().domain([new Date("2019-06-17T15:30:00Z"), new Date("2019-09-16T09:00:00Z")]).range([408,2100]);
const yT = d3.scaleLinear().domain([0,1]).range([1115,141]);
const gT = svg.append("g");
stationMedians.forEach((m,i) => {
  gT.append("line").attr("x1",xT.range()[0]).attr("x2",xT.range()[1]).attr("y1",yT(m)).attr("y2",yT(m))
    .attr("stroke",stationColors[i]).attr("stroke-width",3.3).attr("stroke-dasharray","12.5,6.2");
});
gT.append("line").attr("x1",xT(new Date(eruptionDate))).attr("x2",xT(new Date(eruptionDate)))
  .attr("y1",yT(0)).attr("y2",yT(0.4)).attr("stroke","#000").attr("stroke-width",2.5).attr("stroke-dasharray","9.5,4.5");
gT.append("text").attr("transform",`translate(${xT(new Date(eruptionDate))-18},${yT(0.2)}) rotate(-90)`)
  .attr("font-family",FONT).attr("font-size",34.6).text("Eruption date");
gT.append("text").attr("x",xT(new Date("2019-06-23T00:00Z"))).attr("y",yT(0.122)).attr("dominant-baseline","central")
  .attr("font-family",FONT).attr("font-size",34.6).text("4-year-pre-eruptive median");
const stationPts = [armPts,okinawaPts,kuwaitUPts,shagayaPts,sedePts,epaPts,lumbiniPts,kyanjinPts,taipeiPts];
const drawOrder = [0,1,3,2,4,6,7,8,5];
drawOrder.forEach(i => {
  stationPts[i].forEach(p => {
    gT.append("path").attr("d",symbolPath(stationSymbols[i],MS))
      .attr("transform",`translate(${xT(new Date(p[0]))},${yT(p[1])})`)
      .attr("fill",stationColors[i]).attr("stroke",stationColors[i]).attr("stroke-width",1);
  });
});
gT.append("rect").attr("x",xT(new Date(highlightBox.d0))).attr("y",yT(highlightBox.v1))
  .attr("width",xT(new Date(highlightBox.d1))-xT(new Date(highlightBox.d0))).attr("height",yT(highlightBox.v0)-yT(highlightBox.v1))
  .attr("fill","none").attr("stroke","#2ca02c").attr("stroke-width",2.2);
const legT = gT.append("g");
legT.append("rect").attr("x",1020).attr("y",863).attr("width",1064).attr("height",237).attr("rx",7)
  .attr("fill","#fff").attr("fill-opacity",0.8).attr("stroke","#cccccc").attr("stroke-width",1.6);
stationNames.forEach((n,i) => {
  const col = i < 5 ? 0 : 1, row = i < 5 ? i : i-5;
  const mx = col ? 1663 : 1062, tx = col ? 1719 : 1118, cy = 891.5 + row*45;
  legT.append("path").attr("d",symbolPath(stationSymbols[i],MS)).attr("transform",`translate(${mx},${cy})`)
    .attr("fill",stationColors[i]).attr("stroke",stationColors[i]).attr("stroke-width",1);
  legT.append("text").attr("x",tx).attr("y",cy).attr("dominant-baseline","central")
    .attr("font-family",FONT).attr("font-size",30.6).text(n);
});
gT.append("rect").attr("x",408).attr("y",141).attr("width",1692).attr("height",974).attr("fill","none").attr("stroke","#000").attr("stroke-width",2);
const axYT = gT.append("g").attr("transform","translate(408,0)")
  .call(d3.axisLeft(yT).tickValues(topYTicks).tickFormat(d3.format(".1f")).tickSize(12).tickPadding(10));
const axXT = gT.append("g").attr("transform","translate(0,1115)")
  .call(d3.axisBottom(xT).tickValues(topXTicks.map(d => new Date(d+"T00:00:00Z")))
    .tickFormat(d => d.getUTCDate() === 1 ? d3.utcFormat("%b %Y")(d) : "").tickSize(13).tickPadding(8));
[axYT, axXT].forEach(a => {
  a.select(".domain").remove();
  a.selectAll("line").attr("stroke","#000").attr("stroke-width",2);
  a.selectAll("text").attr("font-family",FONT).attr("font-size",34.6).attr("fill","#000");
});
const ylT = gT.append("text").attr("transform","translate(306,628) rotate(-90)").attr("text-anchor","middle")
  .attr("font-family",FONT).attr("font-size",34.6);
ylT.append("tspan").text("r");
ylT.append("tspan").attr("font-size",24).attr("font-style","italic").attr("dy",8).text("peak");
ylT.append("tspan").attr("dy",-8).text(" (µm)");

// ---------- INSET ----------
const xI = d3.scaleLog().domain([0.05,15]).range([424.4,1016.7]);
const yI = d3.scaleLog().domain([1e-3,1]).range([628.2,159.7]);
const gI = svg.append("g");
gI.append("rect").attr("x",424.4).attr("y",159.7).attr("width",592.3).attr("height",468.5).attr("fill","#fff");
const defs = svg.append("defs");
defs.append("clipPath").attr("id","clipI").append("rect").attr("x",424.4).attr("y",159.7).attr("width",592.3).attr("height",468.5);
const gIc = gI.append("g").attr("clip-path","url(#clipI)");
regionBounds.forEach(b => {
  gIc.append("line").attr("x1",xI(b)).attr("x2",xI(b)).attr("y1",yI(1)).attr("y2",yI(1e-3))
    .attr("stroke","#808080").attr("stroke-width",2.5).attr("stroke-dasharray","9.5,4.5");
});
regionLabels.forEach(r => {
  gIc.append("text").attr("transform",`translate(${xI(r[1])},${yI(r[2])}) rotate(-60)`).attr("text-anchor","middle")
    .attr("dominant-baseline","central").attr("font-family",FONT).attr("font-size",32).attr("fill","#808080").text(r[0]);
});
const lineI = d3.line().x(d => xI(d[0])).y(d => yI(d[1])).curve(d3.curveMonotoneX);
gIc.append("path").attr("d",lineI(meanR.map((r,i) => [r,meanDV[i]]))).attr("fill","none").attr("stroke","#000").attr("stroke-width",3.6);
gIc.append("path").attr("d",lineI(obsR.map((r,i) => [r,obsDV[i]]))).attr("fill","none").attr("stroke","#1f77b4").attr("stroke-width",3.6).attr("stroke-dasharray","13,5.6");
const at = gI.append("text").attr("x",xI(annotText[0])).attr("y",yI(annotText[1])).attr("font-family",FONT).attr("font-size",34.6);
at.append("tspan").text("Raikoke VVP R");
at.append("tspan").attr("font-size",24).attr("font-style","italic").attr("dy",7).text("peak");
gI.append("line").attr("x1",xI(annotFrom[0])).attr("y1",yI(annotFrom[1])).attr("x2",xI(annotTo[0])).attr("y2",yI(annotTo[1]))
  .attr("stroke","#000").attr("stroke-width",1.6);
gI.append("path").attr("d",symbolPath("tri_left",31)).attr("transform",`translate(${xI(vvpPeak[0])},${yI(vvpPeak[1])})`)
  .attr("fill","#2ca02c").attr("stroke","#2ca02c").attr("stroke-width",1);
gI.append("rect").attr("x",496).attr("y",175.5).attr("width",505).attr("height",100).attr("rx",7)
  .attr("fill","#fff").attr("fill-opacity",0.8).attr("stroke","#cccccc").attr("stroke-width",1.6);
gI.append("line").attr("x1",507.6).attr("x2",571.3).attr("y1",201).attr("y2",201).attr("stroke","#000").attr("stroke-width",3.6);
gI.append("line").attr("x1",507.6).attr("x2",571.3).attr("y1",247).attr("y2",247).attr("stroke","#1f77b4").attr("stroke-width",3.6).attr("stroke-dasharray","13,5.6");
gI.append("text").attr("x",594).attr("y",201).attr("dominant-baseline","central").attr("font-family",FONT).attr("font-size",30.4).text("4-year-pre-eruptive mean");
gI.append("text").attr("x",594).attr("y",247).attr("dominant-baseline","central").attr("font-family",FONT).attr("font-size",30.4).text("2019-08-04 03:57:28");
gI.append("rect").attr("x",424.4).attr("y",159.7).attr("width",592.3).attr("height",468.5).attr("fill","none").attr("stroke","#000").attr("stroke-width",2);
const xMajor = [0.1,1,10], xExp = ["−1","0","1"];
const xMinor = [0.06,0.07,0.08,0.09,0.2,0.3,0.4,0.5,0.6,0.7,0.8,0.9,2,3,4,5,6,7,8,9];
xMinor.forEach(v => gI.append("line").attr("x1",xI(v)).attr("x2",xI(v)).attr("y1",628.2).attr("y2",635).attr("stroke","#000").attr("stroke-width",1.5));
xMajor.forEach((v,i) => {
  gI.append("line").attr("x1",xI(v)).attr("x2",xI(v)).attr("y1",628.2).attr("y2",640).attr("stroke","#000").attr("stroke-width",2);
  const t = gI.append("text").attr("x",xI(v)).attr("y",675).attr("text-anchor","middle").attr("font-family",FONT).attr("font-size",30.4);
  t.append("tspan").text("10");
  t.append("tspan").attr("font-size",21).attr("dy",-13).text(xExp[i]);
});
gI.append("text").attr("x",720).attr("y",710).attr("text-anchor","middle").attr("font-family",FONT).attr("font-size",30.4).text("Radius (µm)");
const yMajor = [1e-3,1e-2,1e-1,1], yExp = ["−3","−2","−1","0"];
[1e-3,1e-2,1e-1].forEach(dec => d3.range(2,10).forEach(k => {
  const v = dec*k;
  gI.append("line").attr("x1",1016.7).attr("x2",1023.5).attr("y1",yI(v)).attr("y2",yI(v)).attr("stroke","#000").attr("stroke-width",1.5);
}));
yMajor.forEach((v,i) => {
  gI.append("line").attr("x1",1016.7).attr("x2",1029).attr("y1",yI(v)).attr("y2",yI(v)).attr("stroke","#000").attr("stroke-width",2);
  const t = gI.append("text").attr("x",1037).attr("y",yI(v)+11).attr("font-family",FONT).attr("font-size",30.4);
  t.append("tspan").text("10");
  t.append("tspan").attr("font-size",21).attr("dy",-13).text(yExp[i]);
});
gI.append("text").attr("transform","translate(1143,393) rotate(-90)").attr("text-anchor","middle")
  .attr("font-family",FONT).attr("font-size",30.4).text("dV/d(ln r) (µm³/µm²)");
svg.append("line").attr("x1",xI(vvpPeak[0])).attr("y1",yI(vvpPeak[1]))
  .attr("x2",xT(new Date(highlightBox.d0))).attr("y2",yT((highlightBox.v0+highlightBox.v1)/2))
  .attr("stroke","#2ca02c").attr("stroke-width",2.2);

// ---------- BOTTOM PANEL ----------
const day0 = Date.UTC(2019,5,1);
const toDate = d => new Date(day0 + d*864e5);
const xB = d3.scaleUtc().domain([new Date("2019-06-01T00:00:00Z"), new Date("2019-12-31T00:00:00Z")]).range([207,2296]);
const yB = d3.scaleLinear().domain([0.05,0.45]).range([2246,1455]);
const gB = svg.append("g");
defs.append("clipPath").attr("id","clipB").append("rect").attr("x",207).attr("y",1455).attr("width",2089).attr("height",791);
const gBc = gB.append("g").attr("clip-path","url(#clipB)");
gBc.selectAll("circle.red").data(dispRed).join("circle").attr("class","red")
  .attr("cx",d => xB(toDate(d[0]))).attr("cy",d => yB(d[1])).attr("r",7.3)
  .attr("fill","#b40426").attr("fill-opacity",0.6).attr("stroke","#b40426").attr("stroke-opacity",0.6).attr("stroke-width",1.5);
gBc.selectAll("circle.blue").data(dispBlue).join("circle").attr("class","blue")
  .attr("cx",d => xB(toDate(d[0]))).attr("cy",d => yB(d[1])).attr("r",7.3)
  .attr("fill","#3b4cc0").attr("fill-opacity",0.6).attr("stroke","#3b4cc0").attr("stroke-opacity",0.6).attr("stroke-width",1.5);
dispMedians.forEach((m,i) => {
  gBc.append("line").attr("x1",207).attr("x2",2296).attr("y1",yB(m)).attr("y2",yB(m))
    .attr("stroke",dispMedianColors[i]).attr("stroke-width",3).attr("stroke-dasharray","11.5,5.3");
});
gB.append("line").attr("x1",xB(new Date(eruptionDate))).attr("x2",xB(new Date(eruptionDate))).attr("y1",1455).attr("y2",2246)
  .attr("stroke","#000").attr("stroke-width",2.2).attr("stroke-dasharray","8,4");
gB.append("text").attr("transform",`translate(${xB(new Date(eruptionDate))-12},${yB(0.30)}) rotate(-90)`)
  .attr("font-family",FONT).attr("font-size",34).text("Eruption date");
gB.append("rect").attr("x",207).attr("y",1455).attr("width",2089).attr("height",791).attr("fill","none").attr("stroke","#000").attr("stroke-width",2);
const axYB = gB.append("g").attr("transform","translate(207,0)")
  .call(d3.axisLeft(yB).tickValues(bottomYTicks).tickFormat(d3.format(".2f")).tickSize(12).tickPadding(10));
const axXB = gB.append("g").attr("transform","translate(0,2246)")
  .call(d3.axisBottom(xB).tickValues(bottomXTicks.map(d => new Date(d+"T00:00:00Z")))
    .tickFormat(d => d.getUTCDate() === 1 ? d3.utcFormat("%b %Y")(d) : "").tickSize(13).tickPadding(10));
[axYB, axXB].forEach(a => {
  a.select(".domain").remove();
  a.selectAll("line").attr("stroke","#000").attr("stroke-width",2);
  a.selectAll("text").attr("font-family",FONT).attr("font-size",34).attr("fill","#000");
});
const ylB = gB.append("text").attr("transform","translate(91,1850) rotate(-90)").attr("text-anchor","middle")
  .attr("font-family",FONT).attr("font-size",34);
ylB.append("tspan").text("r");
ylB.append("tspan").attr("font-size",24).attr("font-style","italic").attr("dy",8).text("peak");
ylB.append("tspan").attr("dy",-8).text(" (µm)");
</script>
</body></html>
